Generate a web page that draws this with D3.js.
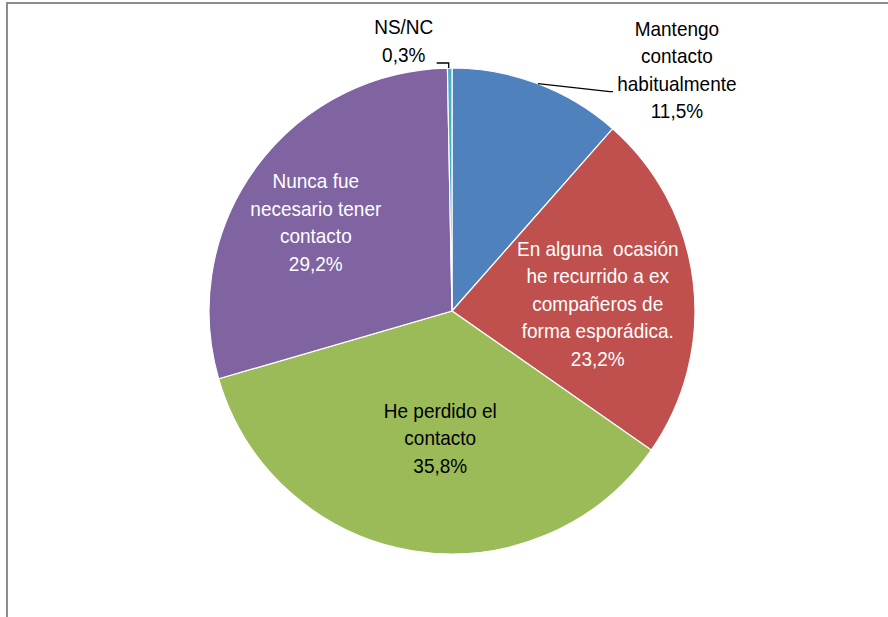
<!DOCTYPE html>
<html lang="es">
<head>
<meta charset="UTF-8">
<title>Contacto con ex compañeros</title>
<script src="https://d3js.org/d3.v7.min.js"></script>
<style>
  body { margin: 0; background: #fff; }
  text { font-family: "Liberation Sans", Arial, sans-serif; font-size: 19px; }
</style>
</head>
<body>
<div id="chart"></div>
<script>
// data
var categories = ["Mantengo contacto habitualmente",
                  "En alguna ocasión he recurrido a ex compañeros de forma esporádica.",
                  "He perdido el contacto",
                  "Nunca fue necesario tener contacto",
                  "NS/NC"];
var values = [11.5, 23.2, 35.8, 29.2, 0.3];
var labelLines = [["Mantengo", "contacto", "habitualmente"],
                  ["En alguna  ocasión", "he recurrido a ex", "compañeros de", "forma esporádica."],
                  ["He perdido el", "contacto"],
                  ["Nunca fue", "necesario tener", "contacto"],
                  ["NS/NC"]];
var colors = ["#4F81BD", "#C0504D", "#9BBB59", "#8064A2", "#4BACC6"];

// label placement (style)
var labelStyle = [
  {outside: true, dx: 139, dy: -14, color: "#000"},
  {outside: false, k: 0.6, nx: 1, ny: 10, color: "#fff"},
  {outside: false, k: 0.55, nx: 10, ny: -5, color: "#000"},
  {outside: false, k: 0.65, nx: -9, ny: 5, color: "#fff"},
  {outside: true, dx: -46, dy: -27.5, color: "#000"}
];

var width = 888, height = 617;
var cx = 452, cy = 311, R = 243;
var lineH = 27.5;

var svg = d3.select("#chart").append("svg")
  .attr("width", width).attr("height", height);

// chart frame
svg.append("rect")
  .attr("x", 7).attr("y", 3)
  .attr("width", 1000).attr("height", 1000)
  .attr("fill", "none")
  .attr("stroke", "#8c8c8c")
  .attr("stroke-width", 2);

var pie = d3.pie().sort(null).value(function(d) { return d; });
var arcs = pie(values);
var arc = d3.arc().innerRadius(0).outerRadius(R);

var g = svg.append("g").attr("transform", "translate(" + cx + "," + cy + ")");

g.selectAll("path.slice")
  .data(arcs)
  .enter().append("path")
    .attr("class", "slice")
    .attr("d", arc)
    .attr("fill", function(d, i) { return colors[i]; })
    .attr("stroke", "#fff")
    .attr("stroke-width", 1.2);

function pointAt(d, r) {
  var a = (d.startAngle + d.endAngle) / 2;
  return [r * Math.sin(a), -r * Math.cos(a)];
}

function pct(v) { return v.toFixed(1).replace(".", ",") + "%"; }

arcs.forEach(function(d, i) {
  var st = labelStyle[i];
  var lines = labelLines[i].concat([pct(values[i])]);
  var lx, ly;
  if (st.outside) {
    var p = pointAt(d, R);
    lx = p[0] + st.dx; ly = p[1] + st.dy;
    var pts;
    if (i === 0) {
      pts = [[p[0], p[1]], [p[0] + 72, p[1] + 8], [p[0] + 75, p[1] + 8]];
    } else {
      pts = [[p[0] - 1, p[1]], [p[0] - 1, p[1] - 5], [p[0] - 13, p[1] - 5]];
    }
    g.append("path")
      .attr("d", d3.line()(pts))
      .attr("fill", "none")
      .attr("stroke", "#000")
      .attr("stroke-width", 1.3);
  } else {
    var c = pointAt(d, st.k * R);
    lx = c[0] + st.nx; ly = c[1] + st.ny;
  }
  var y0 = ly - (lines.length - 1) * lineH / 2;
  var t = g.append("g");
  lines.forEach(function(s, j) {
    t.append("text")
      .attr("transform", "translate(" + lx + "," + (y0 + j * lineH) + ") scale(1,1.1)")
      .attr("text-anchor", "middle")
      .attr("dy", "0.35em")
      .attr("fill", st.color)
      .style("white-space", "pre")
      .text(s);
  });
});
</script>
</body>
</html>
